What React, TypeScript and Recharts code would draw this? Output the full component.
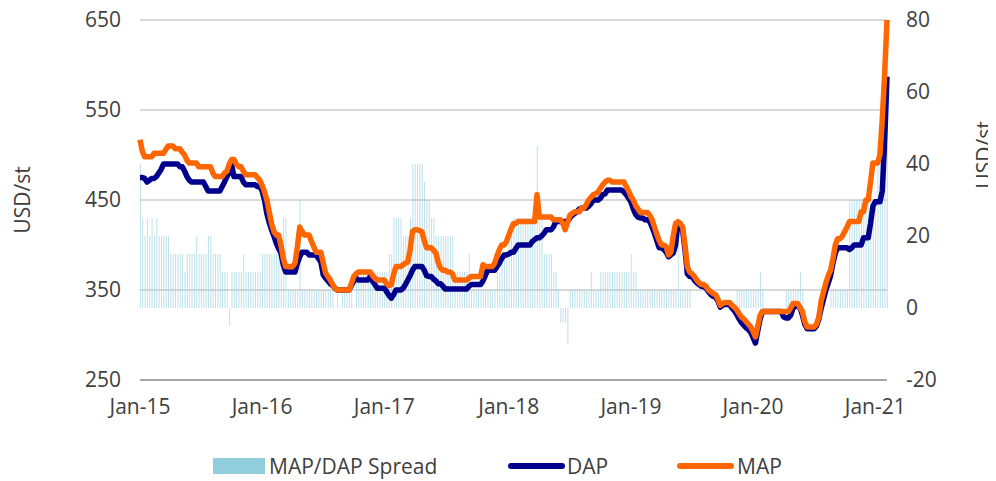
import React from "react";
import {
  ComposedChart,
  Bar,
  Line,
  XAxis,
  YAxis,
  CartesianGrid,
} from "recharts";

// Weekly prices, first week of Jan 2015 onward (USD/st)
const dap = [
  475, 475, 474, 470, 472, 474, 474, 476, 480, 484,
  490, 490, 490, 490, 490, 490, 490, 487, 487, 482,
  476, 472, 470, 470, 470, 470, 470, 470, 465, 460,
  460, 460, 460, 460, 460, 465, 470, 476, 480, 489,
  476, 476, 476, 476, 470, 467, 467, 467, 467, 467,
  465, 465, 460, 450, 435, 425, 417, 410, 402, 396,
  391, 378, 370, 370, 370, 370, 370, 380, 387, 392,
  392, 392, 389, 389, 389, 389, 385, 381, 367, 363,
  360, 357, 355, 352, 350, 350, 350, 350, 350, 350,
  355, 360, 363, 361, 361, 361, 361, 361, 365, 360,
  356, 352, 352, 352, 352, 348, 344, 341, 345, 350,
  350, 350, 352, 356, 361, 366, 372, 376, 376, 376,
  376, 372, 366, 365, 365, 362, 360, 357, 357, 354,
  351, 351, 351, 351, 351, 351, 351, 351, 351, 351,
  354, 356, 356, 356, 356, 356, 360, 366, 372, 372,
  372, 372, 376, 380, 385, 389, 389, 390, 392, 392,
  396, 400, 400, 400, 400, 400, 400, 404, 406, 408,
  408, 410, 413, 417, 417, 417, 420, 426, 426, 426,
  426, 426, 426, 430, 433, 435, 437, 440, 441, 441,
  441, 443, 446, 450, 450, 450, 452, 456, 457, 461,
  461, 461, 461, 461, 461, 461, 459, 456, 452, 448,
  440, 434, 431, 430, 430, 428, 428, 426, 420, 413,
  405, 397, 397, 395, 392, 387, 389, 391, 400, 424,
  422, 416, 395, 368, 365, 365, 361, 358, 356, 354,
  354, 352, 348, 345, 343, 342, 338, 331, 333, 334,
  334, 334, 330, 327, 323, 318, 314, 311, 308, 306,
  303, 297, 291, 305, 318, 326, 326, 326, 326, 326,
  326, 326, 326, 326, 320, 319, 319, 322, 330, 332,
  332, 330, 322, 312, 307, 307, 307, 307, 310, 318,
  330, 340, 350, 358, 366, 380, 391, 397, 397, 397,
  397, 397, 395, 397, 400, 400, 400, 400, 408, 408,
  408, 424, 443, 448, 448, 448, 460, 515, 587,
];

const map = [
  517, 504, 498, 498, 498, 498, 502, 502, 502, 502,
  502, 506, 510, 510, 510, 507, 507, 507, 503, 500,
  494, 491, 491, 491, 491, 487, 487, 487, 487, 487,
  487, 480, 476, 476, 476, 476, 480, 482, 490, 495,
  495, 490, 487, 487, 482, 478, 478, 478, 478, 478,
  475, 472, 466, 459, 450, 437, 424, 415, 411, 411,
  400, 385, 376, 376, 376, 376, 380, 398, 420, 415,
  411, 411, 411, 404, 398, 392, 392, 392, 380, 369,
  365, 361, 356, 352, 350, 350, 350, 350, 350, 350,
  357, 365, 368, 370, 370, 370, 370, 370, 370, 366,
  363, 361, 361, 361, 361, 357, 355, 356, 368, 376,
  376, 376, 378, 380, 381, 395, 415, 417, 417, 416,
  415, 405, 397, 397, 397, 394, 391, 380, 374, 372,
  372, 370, 370, 368, 361, 361, 361, 361, 361, 361,
  363, 365, 365, 365, 365, 365, 378, 376, 376, 376,
  376, 380, 388, 395, 400, 400, 404, 411, 418, 424,
  424, 426, 426, 426, 426, 426, 426, 426, 426, 456,
  431, 431, 431, 431, 431, 431, 428, 428, 428, 428,
  424, 417, 425, 433, 435, 437, 437, 437, 441, 441,
  445, 450, 453, 456, 457, 459, 463, 467, 470, 472,
  472, 470, 470, 470, 470, 470, 470, 465, 460, 454,
  450, 444, 440, 436, 436, 436, 436, 433, 428, 420,
  412, 405, 400, 400, 398, 389, 392, 410, 424, 426,
  424, 420, 400, 376, 370, 368, 365, 361, 358, 356,
  356, 354, 350, 348, 346, 345, 340, 333, 335, 336,
  336, 336, 333, 331, 328, 324, 320, 318, 315, 312,
  309, 304, 298, 310, 322, 326, 326, 326, 326, 326,
  326, 326, 326, 326, 326, 326, 326, 330, 335, 335,
  335, 330, 326, 315, 309, 309, 309, 309, 312, 320,
  338, 348, 358, 366, 372, 385, 400, 407, 407, 410,
  415, 420, 426, 426, 426, 426, 426, 437, 437, 450,
  450, 470, 491, 491, 491, 500, 540, 590, 650,
];

const spread = [
  40, 25, 20, 25, 20, 25, 20, 25, 20, 20,
  20, 20, 20, 15, 15, 15, 15, 15, 15, 10,
  15, 15, 15, 15, 20, 15, 15, 15, 15, 20,
  20, 15, 15, 15, 15, 10, 10, 10, -5, 10,
  10, 10, 10, 10, 15, 10, 10, 10, 10, 10,
  10, 10, 15, 15, 15, 15, 15, 15, 15, 15,
  15, 25, 25, 5, 5, 5, 5, 5, 30, 5,
  5, 5, 5, 5, 5, 5, 5, 5, 5, 5,
  5, 5, 5, 0, 5, 0, 5, 5, 5, 5,
  5, 0, 10, 10, 10, 10, 10, 10, 10, 10,
  10, 10, 10, 10, 10, 10, 15, 15, 25, 25,
  25, 25, 20, 20, 20, 25, 40, 40, 40, 40,
  40, 35, 30, 30, 25, 25, 20, 20, 20, 20,
  20, 20, 20, 20, 10, 10, 10, 10, 10, 10,
  15, 5, 5, 5, 5, 5, 5, 5, 5, 5,
  5, 5, 10, 10, 15, 15, 15, 20, 20, 25,
  25, 25, 25, 25, 25, 25, 25, 25, 25, 45,
  25, 25, 15, 15, 15, 15, 10, 10, 5, -4,
  -4, -4, -10, 5, 5, 5, 5, 5, 5, 5,
  5, 5, 10, 5, 5, 5, 10, 10, 10, 10,
  10, 10, 10, 10, 10, 10, 10, 10, 10, 15,
  10, 10, 5, 5, 5, 5, 5, 5, 5, 5,
  5, 5, 5, 5, 5, 5, 5, 5, 5, 20,
  5, 5, 5, 5, 5, 0, 0, 0, 0, 0,
  0, 0, 0, 0, 0, 0, 0, 0, 0, 0,
  0, 0, 0, 0, 5, 5, 5, 5, 5, 5,
  5, 5, 5, 5, 10, 5, 0, 0, 0, 0,
  0, 0, 0, 0, 0, 5, 5, 5, 5, 5,
  5, 10, 5, 0, 0, 0, 0, 0, 0, 0,
  0, 0, 0, 0, 5, 5, 5, 5, 5, 5,
  5, 5, 30, 30, 30, 30, 30, 30, 30, 30,
  30, 30, 30, 30, 45, 45, 45, 45, 45,
];

// week index of each January tick
const janWeeks = [0, 52, 104, 157, 209, 261, 313];
const janLabels = ["Jan-15", "Jan-16", "Jan-17", "Jan-18", "Jan-19", "Jan-20", "Jan-21"];
const leftTicks = [250, 350, 450, 550, 650];
const rightTicks = [-20, 0, 20, 40, 60, 80];

const chartData = dap.map((d, i) => ({
  week: i,
  dap: d,
  map: map[i],
  spread: spread[i],
}));

const FONT = "'Open Sans', sans-serif";
const TEXT = "#404040";
const NAVY = "#00008C";
const ORANGE = "#FF6600";
const AQUA = "#92CDDC";

const tickStyle = { fontSize: 21, fill: TEXT, fontFamily: FONT };

export default function App() {
  // wrapper is pulled up over the body margin so the svg starts at page y=0
  return (
    <div
      style={{
        position: "relative",
        width: 980,
        height: 481,
        marginTop: -8,
        fontFamily: FONT,
        color: TEXT,
      }}
    >
      <ComposedChart
        width={980}
        height={481}
        data={chartData}
        margin={{ top: 20, right: 0, bottom: 61, left: 0 }}
      >
        <CartesianGrid
          yAxisId="left"
          vertical={false}
          stroke="#d9d9d9"
          strokeWidth={2}
        />
        <XAxis
          dataKey="week"
          type="number"
          domain={[0, 318]}
          ticks={janWeeks}
          interval={0}
          tickFormatter={(v) => janLabels[janWeeks.indexOf(v)]}
          axisLine={{ stroke: "#a6a6a6", strokeWidth: 2 }}
          tickLine={false}
          tickSize={0}
          tickMargin={19}
          height={40}
          tick={tickStyle}
        />
        <YAxis
          yAxisId="left"
          domain={[250, 650]}
          ticks={leftTicks}
          interval={0}
          width={132}
          axisLine={false}
          tickLine={false}
          tickSize={0}
          tickMargin={19}
          tick={tickStyle}
        />
        <YAxis
          yAxisId="right"
          orientation="right"
          domain={[-20, 80]}
          ticks={rightTicks}
          interval={0}
          width={101}
          axisLine={false}
          tickLine={false}
          tickSize={0}
          tickMargin={19}
          tick={tickStyle}
        />
        <Bar
          yAxisId="right"
          dataKey="spread"
          fill={AQUA}
          fillOpacity={0.6}
          barSize={1}
          isAnimationActive={false}
        />
        <Line
          yAxisId="left"
          dataKey="dap"
          type="linear"
          stroke={NAVY}
          strokeWidth={5.5}
          strokeLinejoin="round"
          dot={false}
          activeDot={false}
          isAnimationActive={false}
        />
        <Line
          yAxisId="left"
          dataKey="map"
          type="linear"
          stroke={ORANGE}
          strokeWidth={5.5}
          strokeLinejoin="round"
          dot={false}
          activeDot={false}
          isAnimationActive={false}
        />
      </ComposedChart>

      {/* axis titles */}
      <div
        style={{
          position: "absolute",
          left: 14,
          top: 200,
          transform: "translate(-50%, -50%) rotate(-90deg)",
          fontSize: 21,
          lineHeight: "21px",
          whiteSpace: "nowrap",
        }}
      >
        USD/st
      </div>
      <div
        style={{
          position: "absolute",
          left: 976,
          top: 155,
          transform: "translate(-50%, -50%) rotate(-90deg)",
          fontSize: 21,
          lineHeight: "21px",
          whiteSpace: "nowrap",
        }}
      >
        USD/st
      </div>

      {/* legend */}
      <div style={{ position: "absolute", left: 205, top: 458, width: 52, height: 16, background: AQUA }} />
      <div style={{ position: "absolute", left: 261, top: 451, lineHeight: "30px", fontSize: 21 }}>
        MAP/DAP Spread
      </div>
      <div style={{ position: "absolute", left: 500, top: 463, width: 57, height: 6, borderRadius: 3, background: NAVY }} />
      <div style={{ position: "absolute", left: 559, top: 451, lineHeight: "30px", fontSize: 21 }}>
        DAP
      </div>
      <div style={{ position: "absolute", left: 669, top: 463, width: 57, height: 6, borderRadius: 3, background: ORANGE }} />
      <div style={{ position: "absolute", left: 729, top: 451, lineHeight: "30px", fontSize: 21 }}>
        MAP
      </div>
    </div>
  );
}
